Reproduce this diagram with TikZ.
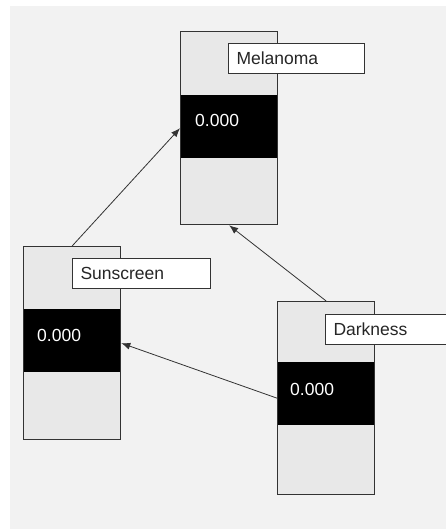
\documentclass[tikz,border=0pt]{standalone}
\usepackage{fontspec}
\setmainfont{Liberation Sans}
\usetikzlibrary{arrows.meta}
\definecolor{bggrey}{HTML}{F2F2F2}
\definecolor{boxgrey}{HTML}{E8E8E8}
\definecolor{edge}{HTML}{333333}
\tikzset{
  varbox/.style={draw=edge, line width=1.3pt, fill=boxgrey, anchor=north west, minimum width=97pt, minimum height=193pt, inner sep=0pt},
  band/.style={fill=black, anchor=north west, minimum width=96pt, minimum height=63pt, inner sep=0pt},
  valtext/.style={text=white, anchor=base west, inner sep=0pt, font=\fontsize{17.5}{20}\selectfont},
  lbl/.style={draw=edge, line width=1pt, fill=white, anchor=north west, minimum height=30pt, inner xsep=8pt, inner ysep=0pt, align=left, font=\fontsize{17.5}{20}\selectfont, text=black!85},
  link/.style={draw=edge, line width=0.8pt, -{Latex[length=9pt,width=7pt]}}
}
\begin{document}
\begin{tikzpicture}[x=1pt,y=-1pt]
\useasboundingbox (0,0) rectangle (446,529);
\fill[white] (0,0) rectangle (446,529);
\fill[bggrey] (10,6) rectangle (446,529);
% variable boxes
\node[varbox] (mel) at (180,31) {};
\node[band] (melband) at (180.5,95) {};
\node[valtext] (melval) at (195,127) {0.000};
\node[varbox] (sun) at (23,246) {};
\node[band] (sunband) at (23.5,309) {};
\node[valtext] (sunval) at (37,341) {0.000};
\node[varbox] (dark) at (277,301) {};
\node[band] (darkband) at (277.5,362) {};
\node[valtext] (darkval) at (290,395) {0.000};
% links
\draw[link] (sun.north) -- (mel.west);
\draw[link] (dark.north) -- (mel.south);
\draw[link] (dark.west) -- (sun.east);
% labels
\node[lbl, minimum width=136pt, text width=120pt] (mellbl) at (228,43) {Melanoma};
\node[lbl, minimum width=138pt, text width=122pt] (sunlbl) at (72,258) {Sunscreen};
\begin{scope}
\clip (0,0) rectangle (446,529);
\node[lbl, minimum width=140pt, text width=124pt] (darklbl) at (325,314) {Darkness};
\end{scope}
\end{tikzpicture}
\end{document}
